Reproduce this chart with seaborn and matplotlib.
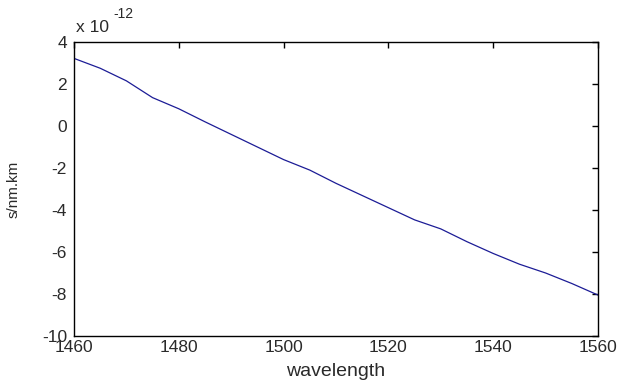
import matplotlib
matplotlib.use("Agg")
import matplotlib.pyplot as plt
import seaborn as sns
import pandas as pd

wavelength = [1460, 1465, 1470, 1475, 1480, 1485, 1490, 1495, 1500, 1505, 1510,
              1515, 1520, 1525, 1530, 1535, 1540, 1545, 1550, 1555, 1560]
dispersion = [3.22, 2.75, 2.15, 1.35, 0.82, 0.2, -0.4, -1.0, -1.6, -2.1, -2.73,
              -3.31, -3.89, -4.47, -4.9, -5.51, -6.07, -6.58, -7.0, -7.5, -8.05]  # x 1e-12
x_ticks = [1460, 1480, 1500, 1520, 1540, 1560]
y_ticks = [-10, -8, -6, -4, -2, 0, 2, 4]

sns.set_theme(style="white")
plt.rcParams['font.family'] = ['Liberation Sans', 'DejaVu Sans']
plt.rcParams['axes.unicode_minus'] = False

df = pd.DataFrame({"wavelength": wavelength, "s": dispersion})

W, H = 621, 390
fig = plt.figure(figsize=(W/100, H/100), dpi=100)
ax = fig.add_axes([74/W, 1-336/H, (598-74)/W, (336-42)/H])
sns.lineplot(data=df, x="wavelength", y="s", ax=ax, color="#1c1c96", linewidth=0.9)

ax.set_xlim(1460, 1560)
ax.set_ylim(-10, 4)
ax.set_xticks(x_ticks)
ax.set_yticks(y_ticks)
txt = "#2a2a2a"
ax.tick_params(direction="in", length=4.5, width=1, top=True, right=True,
               labelsize=12.5, colors="black", labelcolor=txt)
ax.tick_params(axis="x", pad=3)
ax.tick_params(axis="y", pad=5)
for s in ax.spines.values():
    s.set_color("black")
    s.set_linewidth(1)
ax.set_xlabel("wavelength", fontsize=14, color=txt, labelpad=6)
ax.set_ylabel("s/nm.km", fontsize=11, color=txt)
ax.yaxis.set_label_coords(-(74-14)/(598-74), 0.5)
ax.yaxis.label.set_va("center")

fig.text(76/W, 1-32/H, "x 10", fontsize=12.5, color=txt, ha="left", va="baseline")
fig.text(113/W, 1-18/H, "-12", fontsize=10, color=txt, ha="left", va="baseline")
ax.grid(False)
fig.savefig("out.png", dpi=100)
